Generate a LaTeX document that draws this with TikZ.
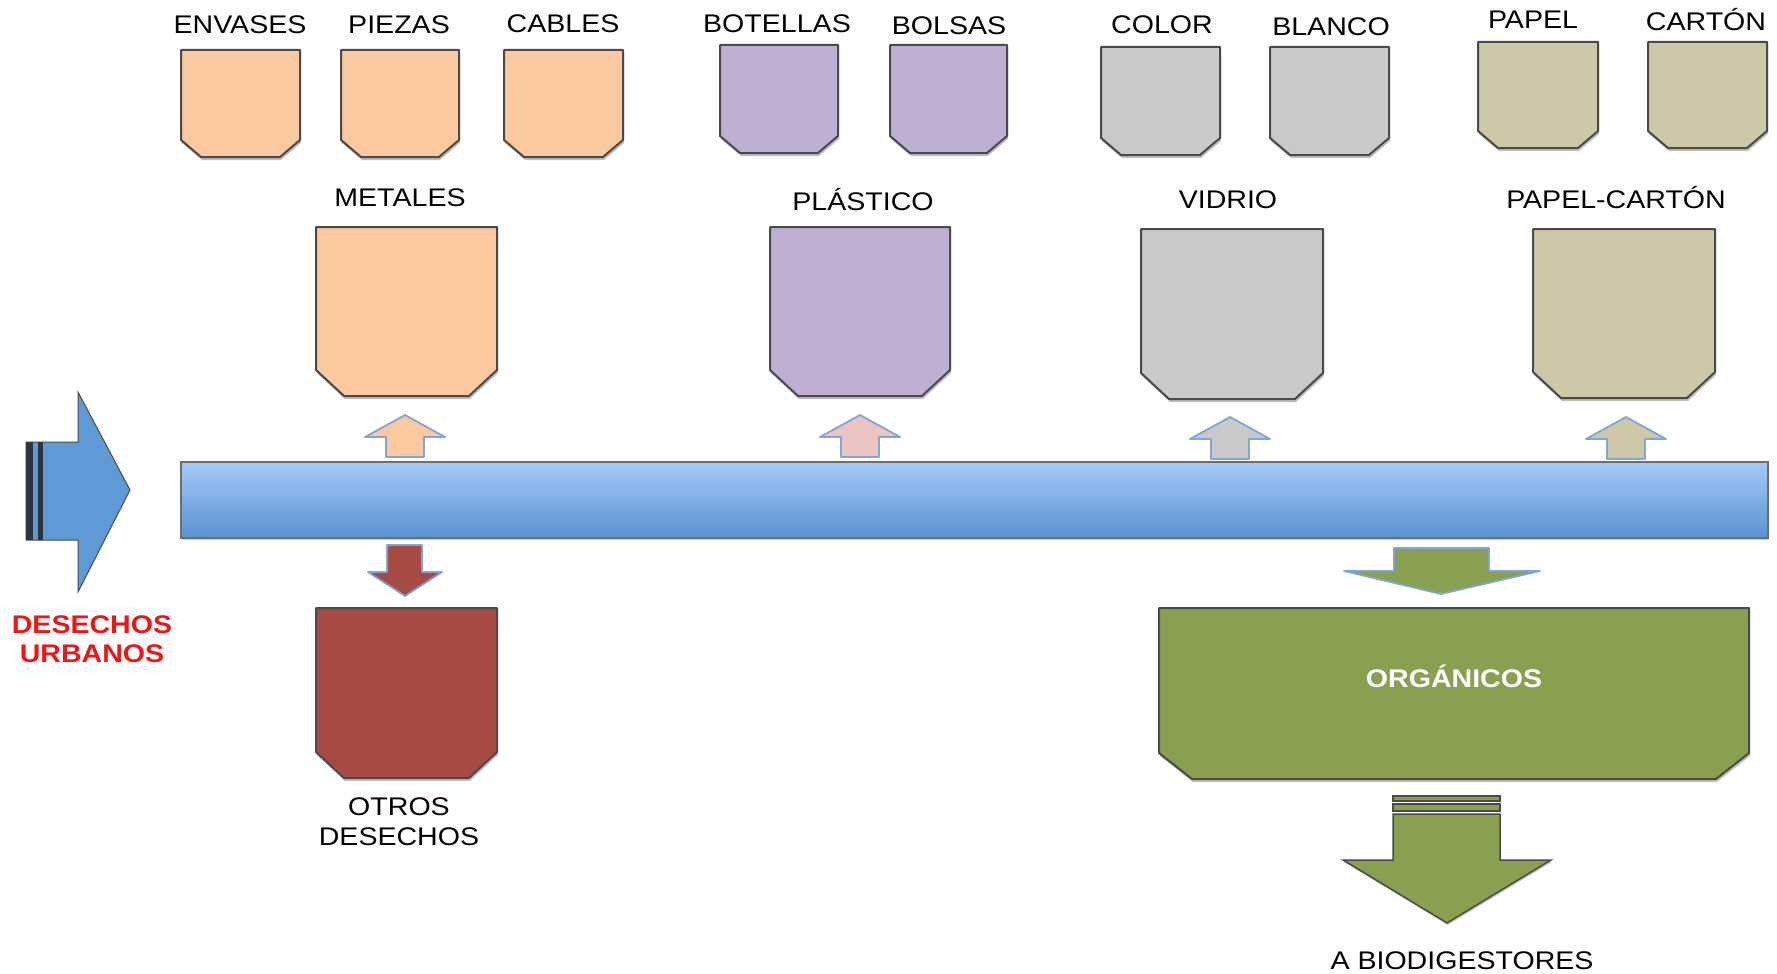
\documentclass[tikz,border=0pt]{standalone}
\usepackage{fontspec}
\setmainfont{Liberation Sans}[FakeStretch=1.12]
\usetikzlibrary{shadows}
\definecolor{orangeF}{HTML}{FAC99F}
\definecolor{purpleF}{HTML}{BFB0D3}
\definecolor{grayF}{HTML}{C9C9C9}
\definecolor{tanF}{HTML}{CFC8A7}
\definecolor{redF}{HTML}{A54B44}
\definecolor{greenF}{HTML}{89A050}
\definecolor{pinkF}{HTML}{ECC4C3}
\definecolor{barTop}{HTML}{A5C9F7}
\definecolor{barBot}{HTML}{5A93D3}
\definecolor{blueA}{HTML}{5E9AD6}
\definecolor{edgeD}{HTML}{4A4A4A}
\definecolor{edgeL}{HTML}{7EA6D6}
\definecolor{stripeD}{HTML}{2C3440}
\definecolor{txtRed}{HTML}{F01515}
\newcommand{\drawbin}[7]{%
  \draw[binbox, fill=#7] (#1,#2) -- (#3,#2) -- (#3,#4-#6) -- (#3-#5,#4) -- (#1+#5,#4) -- (#1,#4-#6) -- cycle;}
\newcommand{\uparrowblk}[3]{% cx, tip y, colour
  \draw[smallarrow, fill=#3] (#1,#2) -- (#1+40,#2+22) -- (#1+19,#2+22) -- (#1+19,#2+42) -- (#1-19,#2+42) -- (#1-19,#2+22) -- (#1-40,#2+22) -- cycle;}
\tikzset{
  binbox/.style={draw=edgeD, line width=2pt, line join=round,
    drop shadow={shadow xshift=1pt, shadow yshift=-3pt, opacity=0.25, fill=black}},
  smallarrow/.style={draw=edgeL, line width=1.8pt, line join=round},
  lbl/.style={font=\fontsize{25.5}{30}\selectfont, inner sep=0pt, text height=18pt, text depth=0pt},
  lbltwo/.style={font=\fontsize{25.5}{30}\selectfont, inner sep=0pt, align=center, anchor=north},
}
\begin{document}
\begin{tikzpicture}[x=1pt,y=-1pt]
\useasboundingbox (0,0) rectangle (1777,974);
% small bins
\drawbin{181}{50}{300}{157}{20}{17}{orangeF}
\drawbin{341}{50}{459}{157}{20}{17}{orangeF}
\drawbin{504}{50}{623}{157}{20}{17}{orangeF}
\drawbin{720}{45}{838}{153}{20}{17}{purpleF}
\drawbin{890}{45}{1007}{153}{20}{17}{purpleF}
\drawbin{1101}{47}{1220}{155}{20}{17}{grayF}
\drawbin{1270}{47}{1389}{155}{20}{17}{grayF}
\drawbin{1478}{42}{1598}{148}{20}{17}{tanF}
\drawbin{1648}{42}{1767}{148}{20}{17}{tanF}
% labels small bins
\node[lbl] (envases) at (240,25) {ENVASES};
\node[lbl] (piezas) at (399,25) {PIEZAS};
\node[lbl] (cables) at (563,24) {CABLES};
\node[lbl] (botellas) at (777,24) {BOTELLAS};
\node[lbl] (bolsas) at (949,26) {BOLSAS};
\node[lbl] (color) at (1162,25) {COLOR};
\node[lbl] (blanco) at (1331,27) {BLANCO};
\node[lbl] (papel) at (1533,20) {PAPEL};
\node[lbl] (carton) at (1706,22) {CARTÓN};
% big bins
\drawbin{316}{227}{497}{396}{28}{26}{orangeF}
\drawbin{770}{227}{950}{396}{28}{26}{purpleF}
\drawbin{1141}{229}{1323}{399}{28}{26}{grayF}
\drawbin{1533}{229}{1715}{398}{28}{26}{tanF}
\node[lbl] (metales) at (400,197) {METALES};
\node[lbl] (plastico) at (863,201) {PLÁSTICO};
\node[lbl] (vidrio) at (1228,199) {VIDRIO};
\node[lbl] (papelcarton) at (1616,199) {PAPEL-CARTÓN};
% up arrows
\uparrowblk{405}{415}{orangeF}
\uparrowblk{860}{415}{pinkF}
\uparrowblk{1230}{417}{grayF}
\uparrowblk{1626}{417}{tanF}
% conveyor bar
\shade[top color=barTop, bottom color=barBot, draw=edgeD!80, line width=1.5pt,
  drop shadow={shadow xshift=1pt, shadow yshift=-2pt, opacity=0.2, fill=black}]
  (181,462) rectangle (1768,538);
% entry arrow
\draw[draw=edgeD, line width=1pt, line join=miter, fill=blueA]
  (26,442) -- (78,442) -- (78,392) -- (130,490) -- (78,592) -- (78,540) -- (26,540) -- cycle;
\fill[stripeD] (26,442) rectangle (33,540);
\fill[stripeD] (38,442) rectangle (43,540);
\node[lbltwo, text=txtRed, font=\fontsize{25.5}{29.5}\selectfont\bfseries] (desechos) at (92,615) {DESECHOS\\URBANOS};
% down arrow to otros
\draw[smallarrow, fill=redF] (387,545) -- (422,545) -- (422,572) -- (442,572) -- (405,596) -- (368,572) -- (387,572) -- cycle;
\drawbin{316}{608}{497}{778}{28}{26}{redF}
\node[lbltwo, font=\fontsize{25.5}{30}\selectfont] (otros) at (399,797) {OTROS\\DESECHOS};
% down arrow to organicos
\draw[smallarrow, fill=greenF] (1394,548) -- (1489,548) -- (1489,571) -- (1540,571) -- (1441,594) -- (1344,571) -- (1394,571) -- cycle;
\drawbin{1159}{608}{1749}{779}{33}{26}{greenF}
\node[lbl, text=white, font=\fontsize{25.5}{30}\selectfont\bfseries] (organicos) at (1454,678) {ORGÁNICOS};
% arrow to biodigestores
\draw[draw=edgeD, line width=1.5pt, fill=greenF] (1393,796) rectangle (1500,801);
\draw[draw=edgeD, line width=1.5pt, fill=greenF] (1393,804) rectangle (1500,811);
\draw[draw=edgeD, line width=1.5pt, line join=miter, fill=greenF,
  drop shadow={shadow xshift=1pt, shadow yshift=-2pt, opacity=0.2, fill=black}]
  (1393,814) -- (1500,814) -- (1500,860) -- (1551,860) -- (1447,923) -- (1343,860) -- (1393,860) -- cycle;
\node[lbl] (biodig) at (1462,960) {A BIODIGESTORES};
\end{tikzpicture}
\end{document}
